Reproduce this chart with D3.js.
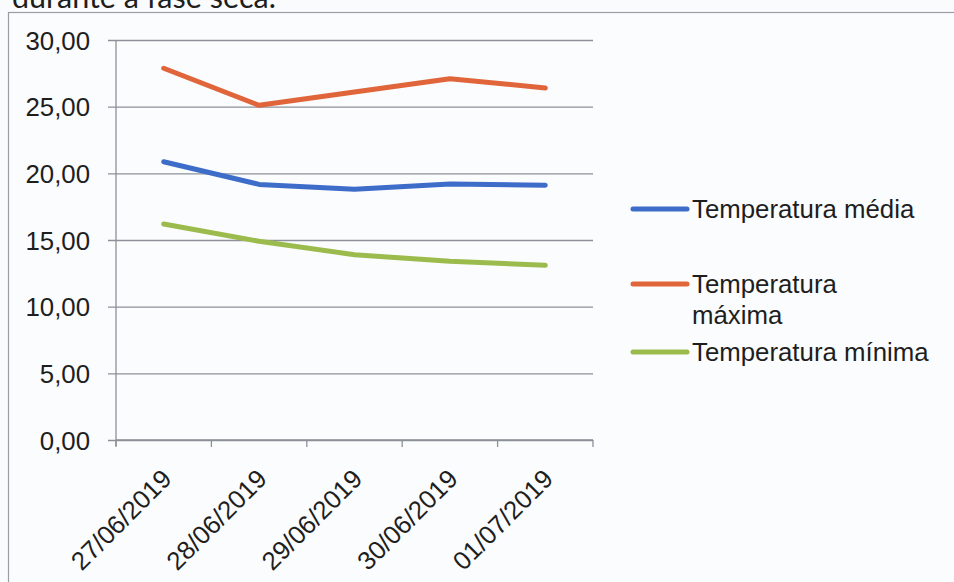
<!DOCTYPE html>
<html>
<head>
<meta charset="utf-8">
<script src="https://cdn.jsdelivr.net/npm/d3@7/dist/d3.min.js"></script>
<style>
  html, body { margin: 0; padding: 0; background: #f9fbfc; }
  svg { display: block; }
</style>
</head>
<body>
<svg id="chart" width="954" height="582"></svg>
<script>
// Daily temperatures during the dry phase
const dates = ["27/06/2019", "28/06/2019", "29/06/2019", "30/06/2019", "01/07/2019"];
const tempMedia  = [20.87, 19.17, 18.80, 19.20, 19.10];
const tempMaxima = [27.88, 25.10, 26.10, 27.10, 26.40];
const tempMinima = [16.20, 14.90, 13.90, 13.40, 13.10];
const yTicks = [0, 5, 10, 15, 20, 25, 30];

const series = [
  { name: ["Temperatura média"], values: tempMedia, color: "#3d6cc9" },
  { name: ["Temperatura", "máxima"], values: tempMaxima, color: "#e0653a" },
  { name: ["Temperatura mínima"], values: tempMinima, color: "#9bbb4c" }
];

const svg = d3.select("#chart");
const font = "'Liberation Sans', Arial, sans-serif";
const fontSize = 25.8;
const textColor = "#1e1e1e";
const gridColor = "#8b9099";

// Caption line above the chart (cut by the top edge)
svg.append("text")
  .attr("x", 12).attr("y", 8)
  .attr("font-family", "Lato, 'Open Sans', sans-serif")
  .attr("font-size", 30)
  .attr("textLength", 264)
  .attr("lengthAdjust", "spacingAndGlyphs")
  .attr("fill", textColor)
  .text("durante a fase seca.");

// Chart frame
svg.append("rect")
  .attr("x", 8.5).attr("y", 12.5)
  .attr("width", 960).attr("height", 600)
  .attr("fill", "#fbfcfd")
  .attr("stroke", "#9a9ea4")
  .attr("stroke-width", 1.2);

const plot = { left: 116, right: 593, top: 40, bottom: 440 };

const x = d3.scaleBand().domain(dates).range([plot.left, plot.right]);
const y = d3.scaleLinear().domain([0, 30]).range([plot.bottom, plot.top]);

// Horizontal gridlines with left tick marks
const yAxis = d3.axisLeft(y)
  .tickValues(yTicks)
  .tickSize(-(plot.right - plot.left))
  .tickPadding(26)
  .tickFormat(d => d3.format(".2f")(d).replace(".", ","));

const gy = svg.append("g")
  .attr("transform", `translate(${plot.left},0)`)
  .call(yAxis);
gy.select(".domain").remove();
gy.selectAll(".tick line")
  .attr("x1", -8)
  .attr("stroke", gridColor)
  .attr("stroke-width", 1.3);
gy.selectAll(".tick text")
  .attr("font-family", font)
  .attr("font-size", fontSize)
  .attr("fill", textColor)
  .attr("dy", "0.36em");

// Vertical value axis line
svg.append("line")
  .attr("x1", plot.left).attr("x2", plot.left)
  .attr("y1", plot.top).attr("y2", plot.bottom + 6)
  .attr("stroke", gridColor).attr("stroke-width", 1.3);

// Category axis: baseline with ticks at band boundaries
const boundaries = dates.map(d => x(d)).concat([plot.right]);
svg.append("line")
  .attr("x1", plot.left).attr("x2", plot.right)
  .attr("y1", plot.bottom).attr("y2", plot.bottom)
  .attr("stroke", gridColor).attr("stroke-width", 1.3);
svg.selectAll(".xtick")
  .data(boundaries)
  .join("line")
  .attr("class", "xtick")
  .attr("x1", d => d).attr("x2", d => d)
  .attr("y1", plot.bottom).attr("y2", plot.bottom + 7)
  .attr("stroke", gridColor).attr("stroke-width", 1.3);

// Rotated date labels
svg.selectAll(".xlabel")
  .data(dates)
  .join("text")
  .attr("class", "xlabel")
  .attr("transform", d => `translate(${x(d) + x.bandwidth() / 2 + 3},${plot.bottom + 34}) rotate(-45)`)
  .attr("text-anchor", "end")
  .attr("dy", "0.35em")
  .attr("font-family", font)
  .attr("font-size", fontSize)
  .attr("fill", textColor)
  .text(d => d);

// Series lines
const line = d3.line()
  .x((v, i) => x(dates[i]) + x.bandwidth() / 2)
  .y(v => y(v));

svg.selectAll(".series")
  .data(series)
  .join("path")
  .attr("class", "series")
  .attr("d", s => line(s.values))
  .attr("fill", "none")
  .attr("stroke", s => s.color)
  .attr("stroke-width", 5)
  .attr("stroke-linecap", "round")
  .attr("stroke-linejoin", "round");

// Legend
const legendY = [209, 284, 352];
const legend = svg.selectAll(".legend")
  .data(series)
  .join("g")
  .attr("class", "legend")
  .attr("transform", (s, i) => `translate(633,${legendY[i]})`);
legend.append("line")
  .attr("x1", 0).attr("x2", 54)
  .attr("stroke", s => s.color)
  .attr("stroke-width", 5)
  .attr("stroke-linecap", "round");
legend.append("text")
  .attr("x", 59)
  .attr("font-family", font)
  .attr("font-size", fontSize)
  .attr("fill", textColor)
  .selectAll("tspan")
  .data(s => s.name)
  .join("tspan")
  .attr("x", 59)
  .attr("y", (t, i) => i * 31)
  .attr("dy", "0.35em")
  .text(t => t);
</script>
</body>
</html>
